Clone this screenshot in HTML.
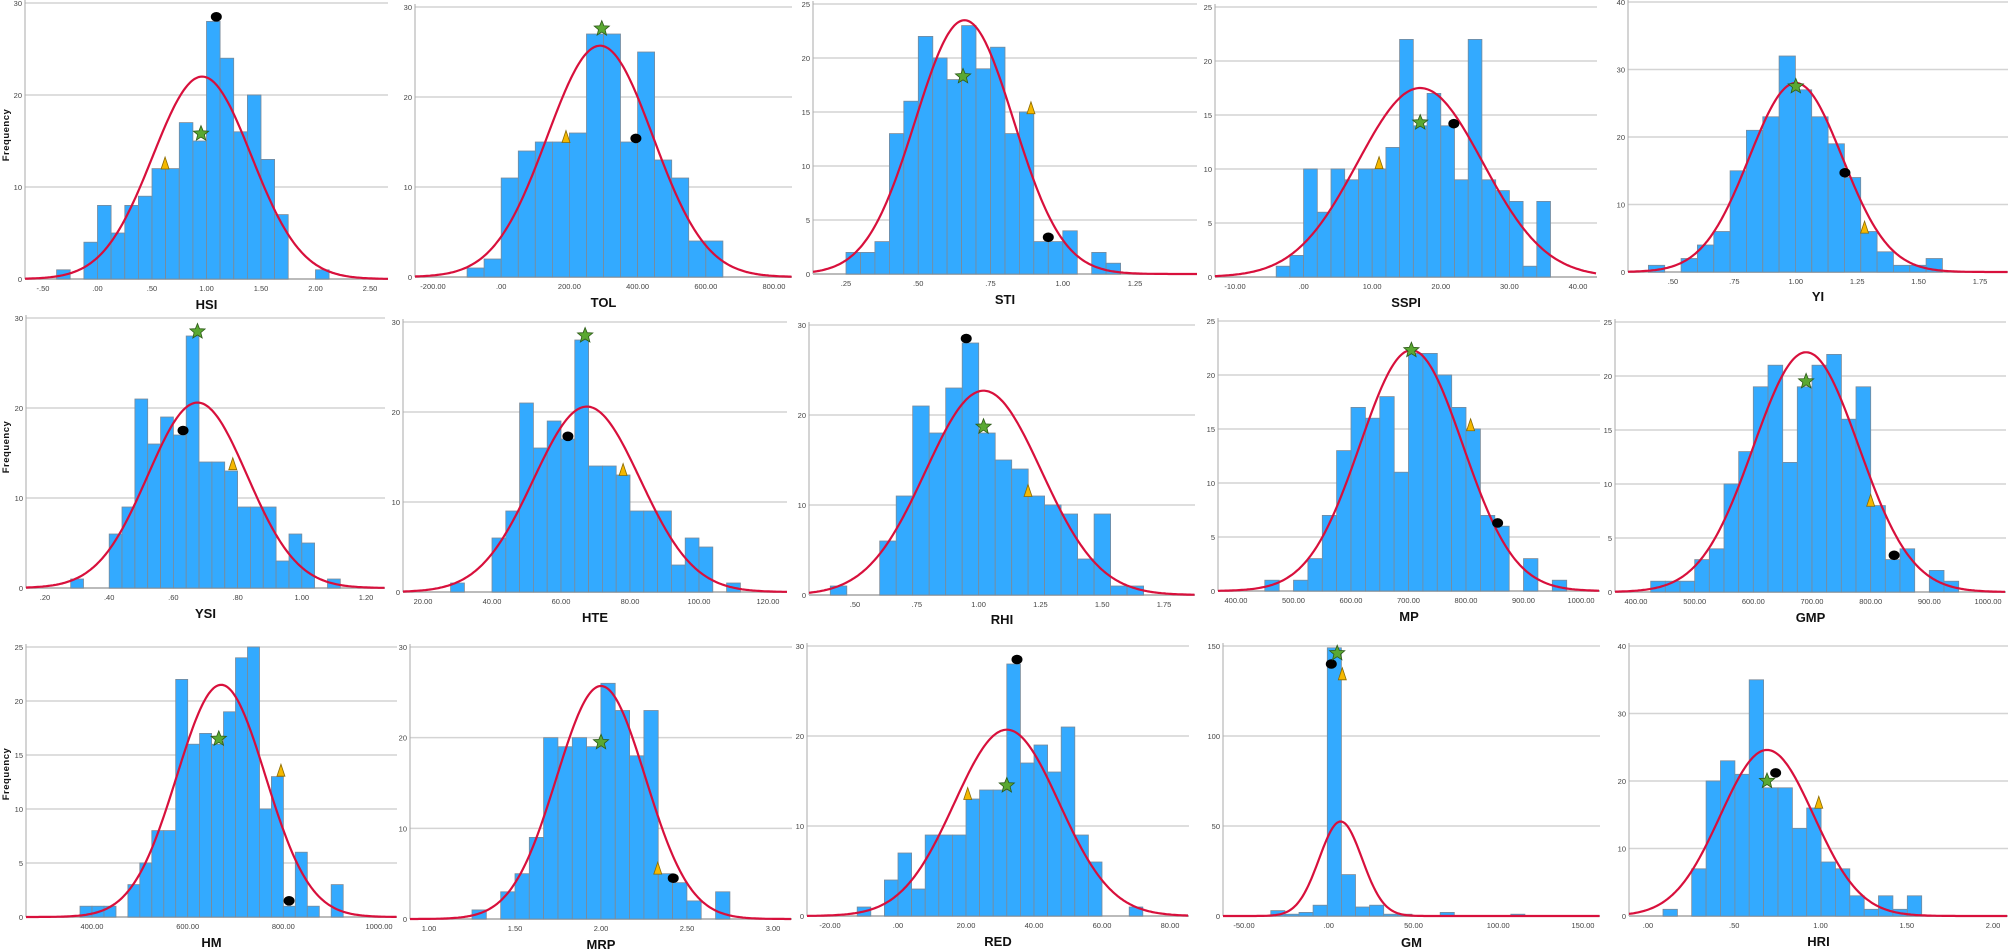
<!DOCTYPE html>
<html><head><meta charset="utf-8"><style>
html,body{margin:0;padding:0;background:#fff;}
svg{display:block;}
text{font-family:"Liberation Sans",sans-serif;}
</style></head><body>
<svg id="s" width="2008" height="952" xmlns="http://www.w3.org/2000/svg"></svg>
<script>
const P=[
{n:"HSI",ax:25,r:388,top:3,base:279,ym:30,ys:10,v0:-0.5,p0:43,v1:2.5,p1:370,xt:[[-0.5,"-.50"],[0,".00"],[0.5,".50"],[1,"1.00"],[1.5,"1.50"],[2,"2.00"],[2.5,"2.50"]],st:-0.375,w:0.125,c:[1,0,4,8,5,8,9,12,12,17,15,28,24,16,20,13,7,0,0,1],mu:0.96,pk:22,ty:305,m:[["t",0.62,12.5],["s",0.95,15.8],["c",1.09,28.5]]},
{n:"TOL",ax:415,r:792,top:7,base:277,ym:30,ys:10,v0:-200,p0:433,v1:800,p1:774,xt:[[-200,"-200.00"],[0,".00"],[200,"200.00"],[400,"400.00"],[600,"600.00"],[800,"800.00"]],st:-100,w:50,c:[1,2,11,14,15,15,16,27,27,15,25,13,11,4,4],mu:290,pk:25.7,ty:303,m:[["t",190,15.5],["s",295,27.6],["c",395,15.4]]},
{n:"STI",ax:813,r:1197,top:4,base:274,ym:25,ys:5,v0:0.25,p0:846,v1:1.25,p1:1135,xt:[[0.25,".25"],[0.5,".50"],[0.75,".75"],[1,"1.00"],[1.25,"1.25"]],st:0.25,w:0.05,c:[2,2,3,13,16,22,20,18,23,19,21,13,15,3,3,4,0,2,1],mu:0.66,pk:23.5,ty:300,m:[["s",0.655,18.3],["t",0.89,15.3],["c",0.95,3.4]]},
{n:"SSPI",ax:1215,r:1597,top:7,base:277,ym:25,ys:5,v0:-10,p0:1235,v1:40,p1:1578,xt:[[-10,"-10.00"],[0,".00"],[10,"10.00"],[20,"20.00"],[30,"30.00"],[40,"40.00"]],st:-4,w:2,c:[1,2,10,6,10,9,10,10,12,22,14,17,14,9,22,9,8,7,1,7],mu:17,pk:17.5,ty:303,m:[["t",11,10.5],["s",17,14.3],["c",21.9,14.2]]},
{n:"YI",ax:1628,r:2008,top:2,base:272,ym:40,ys:10,v0:0.5,p0:1673,v1:1.75,p1:1980,xt:[[0.5,".50"],[0.75,".75"],[1,"1.00"],[1.25,"1.25"],[1.5,"1.50"],[1.75,"1.75"]],st:0.40,w:0.0665,c:[1,0,2,4,6,15,21,23,32,27,23,19,14,6,3,1,1,2],mu:1.0,pk:28,ty:297,m:[["s",1.0,27.5],["c",1.2,14.7],["t",1.28,6.5]]},
{n:"YSI",ax:26,r:385,top:318,base:588,ym:30,ys:10,v0:0.2,p0:45,v1:1.2,p1:366,xt:[[0.2,".20"],[0.4,".40"],[0.6,".60"],[0.8,".80"],[1,"1.00"],[1.2,"1.20"]],st:0.28,w:0.04,c:[1,0,0,6,9,21,16,19,17,28,14,14,13,9,9,9,3,6,5,0,1],mu:0.675,pk:20.6,ty:614,m:[["c",0.63,17.5],["s",0.675,28.5],["t",0.785,13.7]]},
{n:"HTE",ax:403,r:787,top:322,base:592,ym:30,ys:10,v0:20,p0:423,v1:120,p1:768,xt:[[20,"20.00"],[40,"40.00"],[60,"60.00"],[80,"80.00"],[100,"100.00"],[120,"120.00"]],st:28,w:4,c:[1,0,0,6,9,21,16,19,17,28,14,14,13,9,9,9,3,6,5,0,1],mu:67.5,pk:20.6,ty:618,m:[["c",62,17.3],["s",67,28.5],["t",78,13.5]]},
{n:"RHI",ax:809,r:1195,top:325,base:595,ym:30,ys:10,v0:0.5,p0:855,v1:1.75,p1:1164,xt:[[0.5,".50"],[0.75,".75"],[1,"1.00"],[1.25,"1.25"],[1.5,"1.50"],[1.75,"1.75"]],st:0.4,w:0.0667,c:[1,0,0,6,11,21,18,23,28,18,15,14,11,10,9,4,9,1,1],mu:1.02,pk:22.7,ty:620,m:[["c",0.95,28.5],["s",1.02,18.7],["t",1.2,11.5]]},
{n:"MP",ax:1218,r:1600,top:321,base:591,ym:25,ys:5,v0:400,p0:1236,v1:1000,p1:1581,xt:[[400,"400.00"],[500,"500.00"],[600,"600.00"],[700,"700.00"],[800,"800.00"],[900,"900.00"],[1000,"1000.00"]],st:450,w:25,c:[1,0,1,3,7,13,17,16,18,11,22,22,20,17,15,7,6,0,3,0,1],mu:705,pk:22.3,ty:617,m:[["s",705,22.3],["t",808,15.3],["c",855,6.3]]},
{n:"GMP",ax:1615,r:2006,top:322,base:592,ym:25,ys:5,v0:400,p0:1636,v1:1000,p1:1988,xt:[[400,"400.00"],[500,"500.00"],[600,"600.00"],[700,"700.00"],[800,"800.00"],[900,"900.00"],[1000,"1000.00"]],st:425,w:25,c:[1,1,1,3,4,10,13,19,21,12,19,21,22,16,19,8,3,4,0,2,1],mu:690,pk:22.2,ty:618,m:[["s",690,19.5],["t",800,8.4],["c",840,3.4]]},
{n:"HM",ax:26,r:397,top:647,base:917,ym:25,ys:5,v0:400,p0:92,v1:1000,p1:379,xt:[[400,"400.00"],[600,"600.00"],[800,"800.00"],[1000,"1000.00"]],st:375,w:25,c:[1,1,1,0,3,5,8,8,22,16,17,16,19,24,25,10,13,1,6,1,0,3],mu:670,pk:21.5,ty:943,m:[["s",665,16.5],["t",795,13.5],["c",812,1.5]]},
{n:"MRP",ax:410,r:792,top:647,base:919,ym:30,ys:10,v0:1,p0:429,v1:3,p1:773,xt:[[1,"1.00"],[1.5,"1.50"],[2,"2.00"],[2.5,"2.50"],[3,"3.00"]],st:1.25,w:0.0833,c:[1,0,3,5,9,20,19,20,19,26,23,18,23,5,4,2,0,3],mu:2.0,pk:25.7,ty:945,m:[["s",2.0,19.5],["t",2.33,5.5],["c",2.42,4.5]]},
{n:"RED",ax:807,r:1189,top:646,base:916,ym:30,ys:10,v0:-20,p0:830,v1:80,p1:1170,xt:[[-20,"-20.00"],[0,".00"],[20,"20.00"],[40,"40.00"],[60,"60.00"],[80,"80.00"]],st:-12,w:4,c:[1,0,4,7,3,9,9,9,13,14,14,28,17,19,16,21,9,6,0,0,1],mu:32,pk:20.7,ty:942,m:[["t",20.5,13.5],["s",32,14.5],["c",35,28.5]]},
{n:"GM",ax:1223,r:1600,top:646,base:916,ym:150,ys:50,v0:-50,p0:1244,v1:150,p1:1583,xt:[[-50,"-50.00"],[0,".00"],[50,"50.00"],[100,"100.00"],[150,"150.00"]],st:-34.2,w:8.33,c:[3,1,2,6,149,23,5,6,1,1,0,0,2,0,0,0,0,1],mu:7,pk:52.5,ty:943,m:[["c",1.5,140],["s",5,146],["t",8,134]]},
{n:"HRI",ax:1629,r:2008,top:646,base:916,ym:40,ys:10,v0:0,p0:1648,v1:2,p1:1993,xt:[[0,".00"],[0.5,".50"],[1,"1.00"],[1.5,"1.50"],[2,"2.00"]],st:0.087,w:0.0833,c:[1,0,7,20,23,21,35,19,19,13,16,8,7,3,1,3,1,3],mu:0.69,pk:24.6,ty:942,m:[["s",0.69,20],["c",0.74,21.2],["t",0.99,16.7]]}
];
let o="";
for(const p of P){
 const X=v=>p.p0+(v-p.v0)*(p.p1-p.p0)/(p.v1-p.v0);
 const Y=c=>p.base-c*(p.base-p.top)/p.ym;
 for(let t=0;t<=p.ym+1e-9;t+=p.ys){
  const y=Y(t);
  o+=`<line x1="${p.ax}" y1="${y}" x2="${p.r}" y2="${y}" stroke="#d4d4d4" stroke-width="1.5"/>`;
  o+=`<text x="${p.ax-3}" y="${y+3}" font-size="7.5" fill="#444" text-anchor="end">${t}</text>`;
 }
 o+=`<line x1="${p.ax}" y1="${p.top-3}" x2="${p.ax}" y2="${p.base}" stroke="#aaa" stroke-width="1"/>`;
 o+=`<line x1="${p.ax}" y1="${p.base}" x2="${p.r}" y2="${p.base}" stroke="#bbb" stroke-width="2"/>`;
 p.c.forEach((c,i)=>{ if(!c)return;
  const x1=X(p.st+i*p.w),x2=X(p.st+(i+1)*p.w),y=Y(c);
  o+=`<rect x="${x1.toFixed(1)}" y="${y.toFixed(1)}" width="${(x2-x1).toFixed(1)}" height="${(p.base-y).toFixed(1)}" fill="#33aaff" stroke="#7a8a99" stroke-width="0.8"/>`;
 });
 const bw=p.w, sd=200*bw/(p.pk*2.5066);
 let d="";
 for(let px=p.ax;px<=p.r;px+=1.5){
  const v=p.v0+(px-p.p0)*(p.v1-p.v0)/(p.p1-p.p0);
  const c=p.pk*Math.exp(-((v-p.mu)**2)/(2*sd*sd));
  d+=(d?"L":"M")+px.toFixed(1)+","+Y(c).toFixed(1);
 }
 o+=`<path d="${d}" fill="none" stroke="#d8103c" stroke-width="2.2"/>`;
 for(const [v,l] of p.xt){
  o+=`<text x="${X(v)}" y="${p.base+12}" font-size="7.5" fill="#444" text-anchor="middle">${l}</text>`;
 }
 o+=`<text x="${(p.ax+p.r)/2}" y="${p.ty+4}" font-size="13" font-weight="bold" fill="#111" text-anchor="middle">${p.n}</text>`;
 for(const [k,v,c] of p.m){
  const x=X(v),y=Y(c);
  if(k=="c") o+=`<ellipse cx="${x}" cy="${y}" rx="5.5" ry="4.8" fill="#000"/>`;
  else if(k=="t") o+=`<polygon points="${x},${y-7} ${x-4},${y+5} ${x+4},${y+5}" fill="#f5b800" stroke="#8a6a00" stroke-width="0.8"/>`;
  else {let pts=[];for(let i=0;i<10;i++){const a=-Math.PI/2+i*Math.PI/5,r=i%2?3.5:8;pts.push((x+r*Math.cos(a)).toFixed(1)+","+(y+r*Math.sin(a)).toFixed(1));}
   o+=`<polygon points="${pts.join(" ")}" fill="#5aa832" stroke="#2d5a18" stroke-width="0.8"/>`;}
 }
}
for(const cy of [135,447,774]){
 o+=`<text transform="translate(9,${cy}) rotate(-90)" font-size="9.5" font-weight="bold" fill="#111" text-anchor="middle" letter-spacing="0.5">Frequency</text>`;
}
document.getElementById("s").innerHTML=o;
</script>
</body></html>
